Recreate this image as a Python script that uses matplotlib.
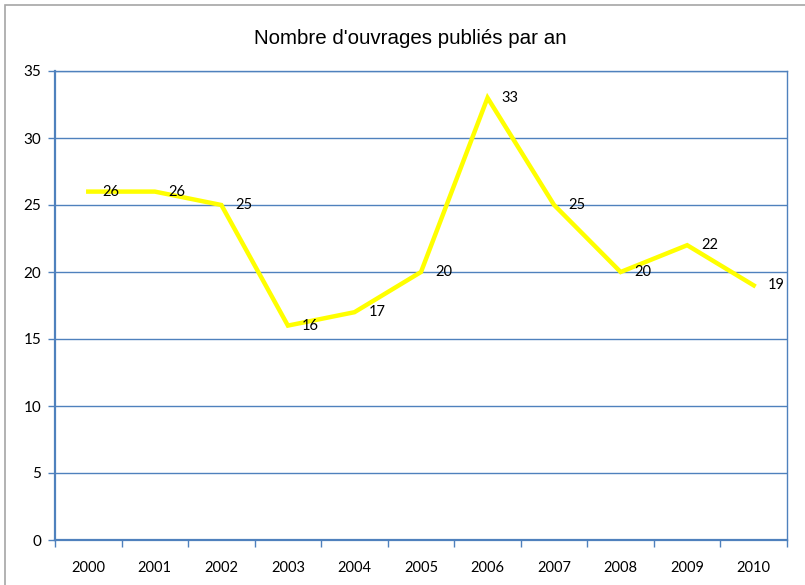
import matplotlib
matplotlib.use("Agg")
import matplotlib.pyplot as plt
from matplotlib.patches import Rectangle
from matplotlib.ticker import FixedLocator, NullFormatter
from matplotlib import font_manager

years = ["2000", "2001", "2002", "2003", "2004", "2005", "2006", "2007", "2008", "2009", "2010"]
values = [26, 26, 25, 16, 17, 20, 33, 25, 20, 22, 19]
y_ticks = [0, 5, 10, 15, 20, 25, 30, 35]
title = "Nombre d'ouvrages publiés par an"

plt.rcParams['font.family'] = ['Lato', 'DejaVu Sans']

W, H = 805, 585
fig = plt.figure(figsize=(W / 100, H / 100), dpi=100)
fig.patch.set_facecolor("white")

left, right, top, bottom = 55, 787, 71, 540
ax = fig.add_axes([left / W, 1 - bottom / H, (right - left) / W, (bottom - top) / H])

blue = "#4F81BD"
x = list(range(len(years)))
ax.plot(x, values, color="#FFFF00", lw=3.2, solid_joinstyle="miter", zorder=3)
for xi, v in zip(x, values):
    ax.annotate(str(v), (xi, v), xytext=(10, 0), textcoords="offset points",
                ha="left", va="center", fontsize=10.5, color="black", zorder=4)

ax.set_xlim(-0.5, len(years) - 0.5)
ax.set_ylim(0, 35)
ax.set_yticks(y_ticks)
ax.set_yticklabels([str(t) for t in y_ticks], fontsize=11)
ax.yaxis.grid(True, color=blue, lw=1)
ax.set_axisbelow(True)

ax.set_xticks(x)
ax.set_xticklabels(years, fontsize=10.5)
ax.tick_params(axis="x", which="major", length=0, pad=15)
ax.xaxis.set_minor_locator(FixedLocator([i - 0.5 for i in range(len(years) + 1)]))
ax.xaxis.set_minor_formatter(NullFormatter())
ax.tick_params(axis="x", which="minor", length=5, color=blue, width=1)
ax.tick_params(axis="y", length=5, color=blue, width=1, pad=5)

for s in ["left", "bottom"]:
    ax.spines[s].set_color(blue)
    ax.spines[s].set_linewidth(1.6)
for s in ["right", "top"]:
    ax.spines[s].set_color(blue)
    ax.spines[s].set_linewidth(1)

names = {f.name for f in font_manager.fontManager.ttflist}
if 'Liberation Sans Narrow' in names:
    tfam, tsize = ['Liberation Sans Narrow', 'DejaVu Sans'], 17
else:
    tfam, tsize = ['Liberation Sans', 'DejaVu Sans'], 14.8
fig.text(410 / W, 1 - 38 / H, title, ha="center", va="center", fontsize=tsize, family=tfam)

fig.add_artist(Rectangle((5 / W, -0.1), 1.2, 1 - 5 / H + 0.1, transform=fig.transFigure,
                         fill=False, edgecolor="#A6A6A6", lw=1.2))

fig.savefig("out.png", dpi=100)
